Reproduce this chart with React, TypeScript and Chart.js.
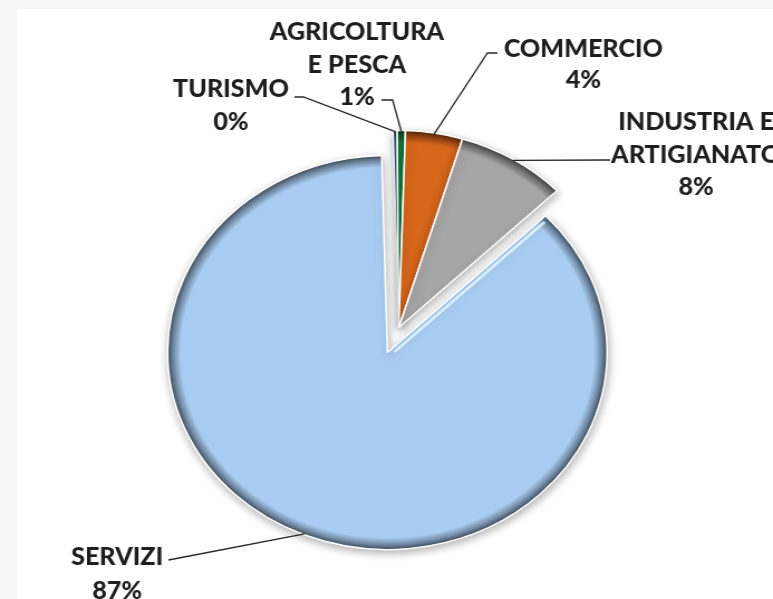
import React, { useEffect, useRef } from "react";
import { Chart, registerables } from "chart.js";

Chart.register(...registerables);

// ---- data ----
const CATEGORIES = ["TURISMO", "AGRICOLTURA E PESCA", "COMMERCIO", "INDUSTRIA E ARTIGIANATO", "SERVIZI"];
const CATEGORY_LINES = [["TURISMO"], ["AGRICOLTURA", "E PESCA"], ["COMMERCIO"], ["INDUSTRIA E", "ARTIGIANATO"], ["SERVIZI"]];
const VALUES = [0.3, 0.6, 4.2, 8.1, 86.8];

// ---- styles ----
const COLORS = ["#2f5e8e", "#15803c", "#d8661b", "#a6a6a6", "#a9cdf2"];
const EXPLODE = [0, 0, 0, 0, 27];
const CANVAS_W = 693;
const CANVAS_H = 599;
const STRETCH = 773 / CANVAS_W;
const TEXT_SCALE_X = 0.9;
const LABEL_LAYOUT = [
  { x: 207, baselines: [97, 130], leader: [[264, 97], [272, 97]] },
  { x: 320, baselines: [40, 73, 105], leader: [[342, 100], [352, 100]] },
  { x: 523, baselines: [57, 88], leader: [[446, 53], [437, 53]] },
  { x: 624, baselines: [130, 163, 195], leader: [[547, 160]] },
  { x: 105, baselines: [565, 599], leader: [[151, 560]] },
];

function shade(hex: string, f: number) {
  const n = parseInt(hex.slice(1), 16);
  const r = Math.round(((n >> 16) & 255) * f);
  const g = Math.round(((n >> 8) & 255) * f);
  const b = Math.round((n & 255) * f);
  return `rgb(${r},${g},${b})`;
}

const explodePlugin = {
  id: "explode",
  afterDatasetsUpdate(chart: any) {
    const arcs = chart.getDatasetMeta(0).data;
    arcs.forEach((arc: any, i: number) => {
      const d = EXPLODE[i] || 0;
      if (!d) return;
      const mid = (arc.startAngle + arc.endAngle) / 2;
      arc.x += Math.cos(mid) * d;
      arc.y += Math.sin(mid) * d;
    });
  },
};

const bevelPlugin = {
  id: "bevel",
  beforeDatasetsDraw(chart: any) {
    const ctx = chart.ctx;
    const arcs = chart.getDatasetMeta(0).data;
    arcs.forEach((arc: any, i: number) => {
      const base = COLORS[i];
      const g = ctx.createRadialGradient(arc.x, arc.y, 0, arc.x, arc.y, arc.outerRadius);
      g.addColorStop(0, base);
      g.addColorStop(0.94, base);
      g.addColorStop(0.975, shade(base, 0.68));
      g.addColorStop(1, shade(base, 0.38));
      arc.options = Object.assign({}, arc.options, { backgroundColor: g });
    });
    ctx.save();
    ctx.shadowColor = "rgba(0,0,0,0.3)";
    ctx.shadowBlur = 9;
    ctx.shadowOffsetX = 1;
    ctx.shadowOffsetY = 3;
  },
  afterDatasetsDraw(chart: any) {
    const ctx = chart.ctx;
    ctx.restore();
    // light bevel highlight along the straight edge of exploded slices
    const arcs = chart.getDatasetMeta(0).data;
    arcs.forEach((arc: any, i: number) => {
      if (!EXPLODE[i]) return;
      const a = arc.startAngle;
      const nx = -Math.sin(a);
      const ny = Math.cos(a);
      const inset = 4;
      const r0 = 6;
      const r1 = arc.outerRadius - 6;
      ctx.save();
      ctx.strokeStyle = "rgba(225,245,255,0.9)";
      ctx.lineWidth = 2.5;
      ctx.lineCap = "round";
      ctx.beginPath();
      ctx.moveTo(arc.x + Math.cos(a) * r0 + nx * inset, arc.y + Math.sin(a) * r0 + ny * inset);
      ctx.lineTo(arc.x + Math.cos(a) * r1 + nx * inset, arc.y + Math.sin(a) * r1 + ny * inset);
      ctx.stroke();
      ctx.restore();
    });
  },
};

const labelPlugin = {
  id: "pieLabels",
  afterDraw(chart: any) {
    const ctx = chart.ctx;
    const meta = chart.getDatasetMeta(0);
    const data = chart.data.datasets[0].data as number[];
    const total = data.reduce((a, b) => a + b, 0);
    ctx.save();
    meta.data.forEach((arc: any, i: number) => {
      const lay = LABEL_LAYOUT[i];
      const mid = (arc.startAngle + arc.endAngle) / 2;
      const ax = arc.x + Math.cos(mid) * (arc.outerRadius - 1);
      const ay = arc.y + Math.sin(mid) * (arc.outerRadius - 1);
      ctx.strokeStyle = "#262626";
      ctx.lineWidth = 1.3;
      ctx.beginPath();
      lay.leader.forEach((p: number[], k: number) => {
        if (k === 0) ctx.moveTo(p[0], p[1]);
        else ctx.lineTo(p[0], p[1]);
      });
      ctx.lineTo(ax, ay);
      ctx.stroke();
      const lines = [...CATEGORY_LINES[i], `${Math.round((data[i] / total) * 100)}%`];
      ctx.fillStyle = "#1e1e1e";
      ctx.font = "900 25px Lato";
      ctx.textAlign = "center";
      ctx.textBaseline = "alphabetic";
      lines.forEach((t, k) => {
        ctx.save();
        ctx.translate(lay.x, lay.baselines[k]);
        ctx.scale(TEXT_SCALE_X, 1);
        ctx.fillText(t, 0, 0);
        ctx.restore();
      });
    });
    ctx.restore();
  },
};

export default function App() {
  const ref = useRef<HTMLCanvasElement | null>(null);
  useEffect(() => {
    if (!ref.current) return;
    const chart = new Chart(ref.current, {
      type: "pie",
      data: {
        labels: CATEGORIES,
        datasets: [
          {
            data: VALUES,
            backgroundColor: COLORS,
            borderColor: "#ffffff",
            borderWidth: 1.5,
            radius: 197,
            rotation: -1.5,
          } as any,
        ],
      },
      options: {
        responsive: false,
        animation: false,
        events: [],
        layout: { padding: { left: 22, right: 0, top: 56, bottom: 0 } },
        plugins: { legend: { display: false }, tooltip: { enabled: false } },
      } as any,
      plugins: [explodePlugin, bevelPlugin, labelPlugin],
    });
    return () => chart.destroy();
  }, []);
  return (
    <div style={{ position: "fixed", left: 0, top: 0, width: 773, height: 599, background: "#f6f6f6", overflow: "hidden" }}>
      <div style={{ position: "absolute", left: 17, top: 9, right: 0, bottom: 0, background: "#ffffff" }} />
      <div style={{ position: "absolute", left: 0, top: 0, width: CANVAS_W, height: CANVAS_H, transform: `scaleX(${STRETCH})`, transformOrigin: "0 0" }}>
        <canvas ref={ref} width={CANVAS_W} height={CANVAS_H} />
      </div>
    </div>
  );
}
